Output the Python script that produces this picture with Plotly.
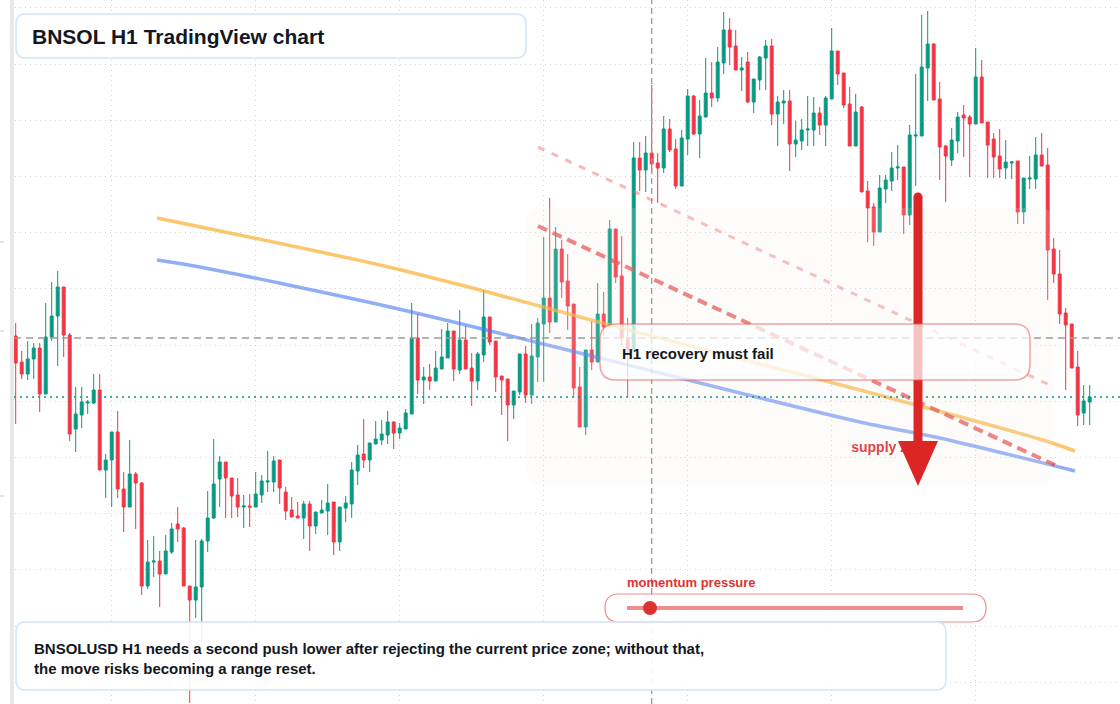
import pandas as pd
import plotly.graph_objects as go

# ---------------- data ----------------
START = "2025-03-09 08:00"

opens = [266.4, 263.8, 262.6, 264.1, 265.2, 260.6, 266.3, 268.4, 271.3, 266.5,
         257.1, 258.5, 259.7, 259.7, 261.0, 253.0, 254.0, 256.8, 251.1, 249.3,
         252.6, 251.7, 241.4, 243.8, 243.9, 242.6, 244.8, 247.6, 247.2, 241.4,
         240.0, 241.3, 245.9, 248.2, 252.1, 253.8, 252.2, 250.5, 249.3, 249.4,
         249.3, 250.5, 251.8, 251.8, 254.0, 250.8, 249.0, 248.4, 248.2, 249.6,
         247.4, 248.7, 248.9, 249.8, 245.8, 249.2, 249.6, 252.9, 254.6, 254.0,
         255.6, 256.0, 256.5, 257.8, 256.7, 257.1, 258.6, 266.2, 262.0, 262.3,
         261.9, 263.1, 264.2, 266.9, 263.0, 266.0, 263.2, 261.9, 264.5, 268.3,
         265.9, 262.4, 262.1, 259.5, 260.8, 264.6, 260.5, 264.3, 267.6, 270.2,
         267.8, 275.1, 271.9, 269.6, 261.3, 257.3, 265.0, 263.8, 268.6, 267.3,
         277.1, 272.4, 266.1, 265.0, 284.2, 283.0, 284.7, 283.7, 283.2, 287.1,
         285.1, 281.4, 286.1, 290.4, 286.6, 288.3, 290.7, 290.2, 293.7, 297.0,
         295.4, 293.0, 293.8, 289.8, 292.0, 294.2, 295.4, 288.6, 289.7, 289.9,
         285.6, 285.9, 287.0, 287.0, 288.7, 287.5, 290.1, 294.9, 292.7, 289.6,
         285.4, 289.3, 280.9, 279.3, 276.8, 281.1, 281.9, 283.2, 283.3, 278.5,
         286.4, 286.4, 293.2, 295.6, 290.1, 285.4, 284.0, 285.9, 288.5, 288.3,
         287.6, 292.3, 287.8, 286.1, 284.4, 283.2, 283.7, 283.9, 278.8, 282.1,
         282.1, 284.5, 283.5, 275.1, 272.6, 268.7, 267.6, 263.3, 258.7, 259.8]

highs = [267.7, 264.9, 265.9, 265.7, 265.7, 269.7, 271.8, 272.9, 271.3, 266.7,
         261.3, 261.3, 260.0, 262.6, 262.6, 254.6, 256.8, 258.9, 252.8, 256.0,
         252.8, 251.8, 246.0, 246.4, 244.9, 246.5, 247.7, 249.3, 247.3, 241.4,
         246.0, 246.1, 250.9, 256.1, 254.4, 253.8, 252.2, 252.2, 250.5, 250.6,
         252.8, 252.5, 254.9, 254.4, 254.0, 251.3, 250.3, 249.8, 249.9, 249.9,
         248.8, 250.0, 251.6, 249.8, 249.3, 250.4, 253.8, 255.5, 258.1, 255.7,
         257.9, 258.0, 258.9, 257.9, 257.7, 259.1, 269.7, 268.6, 263.3, 263.6,
         264.9, 267.1, 267.7, 266.9, 269.0, 267.4, 264.7, 264.8, 271.0, 268.3,
         265.9, 262.4, 262.1, 260.9, 264.6, 265.4, 267.6, 268.2, 276.3, 280.2,
         277.3, 276.0, 274.6, 269.6, 263.3, 265.0, 267.9, 271.7, 270.8, 278.0,
         277.1, 276.4, 268.2, 285.8, 285.8, 286.4, 291.5, 284.7, 288.4, 288.1,
         286.1, 287.0, 291.1, 290.5, 290.0, 294.2, 293.8, 295.3, 298.8, 298.2,
         297.0, 294.3, 294.8, 292.1, 294.4, 296.0, 296.1, 290.4, 291.0, 291.0,
         287.9, 288.1, 290.4, 290.3, 289.3, 290.4, 297.2, 294.9, 292.7, 291.3,
         290.6, 289.4, 281.9, 279.7, 282.5, 282.5, 284.8, 285.5, 283.3, 287.5,
         292.6, 298.5, 298.9, 295.7, 291.8, 285.5, 287.2, 288.8, 289.5, 288.5,
         295.2, 294.0, 287.8, 286.7, 287.1, 286.0, 283.9, 283.9, 282.2, 284.4,
         286.3, 286.7, 285.2, 276.2, 275.0, 269.2, 267.6, 264.9, 261.5, 261.5]

lows = [257.6, 262.1, 262.0, 262.1, 258.8, 260.6, 265.9, 263.4, 264.3, 255.9,
        254.8, 257.2, 258.6, 259.6, 253.0, 250.2, 249.3, 250.2, 246.8, 249.3,
        247.1, 240.5, 241.1, 242.3, 239.3, 242.6, 244.6, 245.8, 241.4, 229.7,
        238.2, 235.8, 244.8, 248.1, 249.3, 248.2, 248.2, 248.3, 247.2, 247.3,
        249.3, 249.7, 250.8, 250.8, 249.6, 248.0, 248.3, 248.2, 246.1, 244.9,
        246.6, 248.7, 246.5, 244.5, 244.9, 247.8, 248.2, 251.5, 253.2, 252.8,
        255.6, 255.5, 255.6, 255.1, 256.1, 257.1, 258.6, 260.6, 259.6, 261.0,
        261.9, 263.1, 264.2, 261.9, 262.6, 263.1, 259.4, 261.0, 263.8, 265.5,
        260.8, 258.5, 255.9, 258.1, 260.5, 259.7, 259.6, 261.8, 261.8, 266.7,
        267.8, 270.2, 267.0, 260.3, 257.3, 256.5, 263.0, 263.8, 266.5, 267.3,
        271.7, 265.5, 260.3, 265.0, 280.9, 280.8, 282.7, 279.7, 282.7, 284.8,
        281.1, 281.4, 284.5, 286.5, 284.2, 288.3, 289.3, 289.8, 292.6, 293.5,
        293.0, 290.9, 289.7, 288.7, 291.0, 291.0, 287.5, 285.4, 287.6, 282.9,
        284.3, 285.0, 285.4, 285.4, 286.5, 285.4, 290.1, 291.5, 289.2, 285.4,
        285.4, 280.8, 275.8, 275.4, 276.8, 279.7, 280.9, 282.0, 276.6, 277.5,
        281.4, 286.4, 289.9, 290.0, 282.0, 279.8, 283.4, 284.7, 284.3, 282.3,
        287.6, 287.7, 282.2, 282.2, 282.2, 282.1, 282.1, 277.6, 277.6, 281.1,
        281.1, 283.4, 270.0, 271.7, 267.6, 261.0, 263.2, 257.4, 257.5, 257.5]

closes = [263.7, 262.6, 264.1, 265.2, 260.6, 266.3, 268.4, 271.3, 266.5, 256.6,
          258.6, 259.8, 259.8, 261.0, 253.0, 254.0, 256.8, 251.1, 249.3, 252.6,
          251.7, 241.4, 243.8, 243.9, 242.6, 244.9, 247.1, 247.1, 241.4, 240.0,
          241.3, 245.9, 248.2, 251.6, 253.8, 252.2, 250.4, 249.3, 249.4, 249.3,
          250.6, 251.9, 251.9, 253.9, 251.2, 248.9, 248.3, 248.2, 249.6, 247.4,
          248.8, 249.0, 249.7, 245.8, 249.3, 249.7, 253.0, 254.5, 254.0, 255.7,
          256.1, 256.6, 257.8, 256.7, 257.2, 258.7, 266.2, 262.0, 262.3, 261.9,
          263.2, 264.3, 266.9, 263.1, 266.0, 263.1, 261.9, 264.6, 268.3, 265.8,
          262.3, 262.0, 259.5, 260.9, 264.6, 260.5, 264.4, 267.7, 270.2, 267.8,
          275.1, 271.8, 269.4, 261.2, 257.3, 265.0, 263.8, 268.6, 267.3, 277.1,
          272.3, 266.2, 265.0, 284.2, 283.0, 284.7, 283.6, 283.2, 287.1, 285.0,
          281.4, 286.2, 290.4, 286.6, 288.4, 290.7, 290.2, 293.8, 297.0, 295.3,
          293.0, 293.2, 289.8, 292.1, 294.3, 295.4, 288.6, 289.8, 289.9, 285.6,
          286.0, 287.0, 287.1, 288.7, 287.5, 290.2, 294.9, 292.6, 289.5, 285.4,
          288.8, 280.8, 279.2, 276.8, 281.2, 282.0, 283.2, 283.3, 278.5, 286.5,
          286.5, 293.3, 295.6, 290.0, 285.3, 284.4, 286.0, 288.3, 288.2, 287.6,
          292.3, 287.7, 285.5, 284.3, 283.1, 283.8, 283.8, 278.8, 282.2, 282.2,
          284.5, 283.4, 275.0, 272.6, 268.6, 267.5, 263.2, 258.5, 259.9, 260.3]

# overlay curves (bar index, price)
orange_idx = [23.55, 60.7, 77.4, 99.0, 140.7, 171.2, 176.55]
orange_price = [278.2, 273.5, 271.0, 267.5, 261.0, 256.0, 254.9]
blue_idx = [23.55, 30.7, 62.4, 94.0, 117.4, 140.7, 154.0, 176.55]
blue_price = [274.0, 273.3, 269.3, 264.7, 261.2, 257.8, 256.2, 252.9]
# descending dashed trendlines (bar index, price)
trend_main_idx = [87.05, 173.2]
trend_main_price = [277.4, 253.5]
trend_upper_idx = [87.05, 172.7]
trend_upper_price = [285.3, 261.4]

crosshair_bar = 106
crosshair_price = 266.2
supply_label_idx = 139.25
supply_label_price = 255.2

TITLE = "BNSOL H1 TradingView chart"
NOTE = ("BNSOLUSD H1 needs a second push lower after rejecting the current price zone; without that,"
        "<br>the move risks becoming a range reset.")
BOX_TEXT = "H1 recovery must fail"
MOMENTUM = "momentum pressure"
SUPPLY = "supply zone"

# ---------------- helpers ----------------
W, H = 1120, 704
FONT = "Liberation Sans, Arial, Helvetica, sans-serif"
GREEN = "#089981"
RED = "#f23645"

times = pd.date_range(START, periods=len(closes), freq="h")
t_base = times[0]


def idx_to_time(ix):
    return [t_base + pd.to_timedelta(v, unit="h") for v in ix]


def px(x):
    return x / W


def py(y):
    return 1 - y / H


def rrect(x0, y0, x1, y1, r):
    pts = [
        ("M", [(x0 + r, y0)]), ("L", [(x1 - r, y0)]), ("Q", [(x1, y0), (x1, y0 + r)]),
        ("L", [(x1, y1 - r)]), ("Q", [(x1, y1), (x1 - r, y1)]), ("L", [(x0 + r, y1)]),
        ("Q", [(x0, y1), (x0, y1 - r)]), ("L", [(x0, y0 + r)]), ("Q", [(x0, y0), (x0 + r, y0)]),
    ]
    s = ""
    for cmd, ps in pts:
        s += cmd + " " + " ".join(f"{px(a):.5f},{py(b):.5f}" for a, b in ps) + " "
    return s + "Z"


def poly(points):
    s = "M " + " L ".join(f"{px(a):.5f},{py(b):.5f}" for a, b in points)
    return s + " Z"


fig = go.Figure()

fig.add_trace(go.Candlestick(
    x=times, open=opens, high=highs, low=lows, close=closes,
    increasing=dict(line=dict(color=GREEN, width=1), fillcolor=GREEN),
    decreasing=dict(line=dict(color=RED, width=1), fillcolor=RED),
    hoverinfo="skip", showlegend=False,
))

fig.add_trace(go.Scatter(
    x=idx_to_time(orange_idx), y=orange_price, mode="lines",
    line=dict(color="rgba(248,175,50,0.7)", width=3.5, shape="spline", smoothing=0.8),
    hoverinfo="skip"))
fig.add_trace(go.Scatter(
    x=idx_to_time(blue_idx), y=blue_price, mode="lines",
    line=dict(color="rgba(70,120,240,0.6)", width=3.5, shape="spline", smoothing=0.8),
    hoverinfo="skip"))
fig.add_trace(go.Scatter(
    x=idx_to_time(trend_upper_idx), y=trend_upper_price, mode="lines",
    line=dict(color="rgba(235,100,100,0.45)", width=3, dash="7px,8px"),
    hoverinfo="skip"))
fig.add_trace(go.Scatter(
    x=idx_to_time(trend_main_idx), y=trend_main_price, mode="lines",
    line=dict(color="rgba(228,70,70,0.75)", width=4, dash="10px,6px"),
    hoverinfo="skip"))
fig.add_trace(go.Scatter(
    x=idx_to_time([supply_label_idx]), y=[supply_label_price], mode="text",
    text=[SUPPLY], textposition="middle right",
    textfont=dict(family=FONT, size=14, color="#dc2626", weight="bold"),
    hoverinfo="skip"))

shapes = []
# left frame strip
shapes.append(dict(type="rect", xref="paper", yref="paper", x0=px(0), x1=px(10), y0=0, y1=1,
                   fillcolor="white", line=dict(width=0), layer="above"))
shapes.append(dict(type="rect", xref="paper", yref="paper", x0=px(10), x1=px(14), y0=0, y1=1,
                   fillcolor="#e8e8e8", line=dict(width=0), layer="above"))
for ty in (242, 331, 496):
    shapes.append(dict(type="line", xref="paper", yref="paper", x0=px(0), x1=px(4), y0=py(ty), y1=py(ty),
                       line=dict(color="#c9c9c9", width=1), layer="above"))
# zone overlay
shapes.append(dict(type="path", xref="paper", yref="paper", path=rrect(527, 208, 1052, 485, 12),
                   fillcolor="rgba(250,235,225,0.15)", line=dict(width=0), layer="above"))
# crosshair + last price line
cross_t = times[crosshair_bar]
shapes.append(dict(type="line", xref="x", yref="paper", x0=cross_t, x1=cross_t, y0=0, y1=1,
                   line=dict(color="#9a9a9a", width=1.3, dash="6px,4px"), layer="above"))
shapes.append(dict(type="line", xref="paper", yref="y", x0=px(14), x1=1, y0=crosshair_price, y1=crosshair_price,
                   line=dict(color="#9a9a9a", width=1.5, dash="7px,5px"), layer="above"))
shapes.append(dict(type="line", xref="paper", yref="y", x0=px(14), x1=1, y0=closes[-1], y1=closes[-1],
                   line=dict(color=GREEN, width=1.5, dash="2px,4px"), layer="above"))
# arrow
AR = "#dc2626"
shapes.append(dict(type="path", xref="paper", yref="paper",
                   path=poly([(913.5, 197), (922.5, 197), (922.5, 445), (913.5, 445)]),
                   fillcolor=AR, line=dict(width=0), layer="above"))
shapes.append(dict(type="circle", xref="paper", yref="paper", x0=px(913.5), x1=px(922.5), y0=py(201.5), y1=py(192.5),
                   fillcolor=AR, line=dict(width=0), layer="above"))
shapes.append(dict(type="path", xref="paper", yref="paper",
                   path=poly([(898, 441), (938, 441), (918, 486)]),
                   fillcolor=AR, line=dict(width=0), layer="above"))
# H1 box
shapes.append(dict(type="path", xref="paper", yref="paper", path=rrect(600, 324, 1030, 380, 16),
                   fillcolor="rgba(255,255,255,0.72)", line=dict(color="rgba(230,90,90,0.55)", width=1.5),
                   layer="above"))
# title box
shapes.append(dict(type="path", xref="paper", yref="paper", path=rrect(16, 14, 526, 58, 10),
                   fillcolor="rgba(255,255,255,0.94)", line=dict(color="#d5e3f8", width=1.5), layer="above"))
# momentum pill
shapes.append(dict(type="path", xref="paper", yref="paper", path=rrect(605, 594, 986, 622, 14),
                   fillcolor="rgba(255,255,255,0.92)", line=dict(color="rgba(230,80,80,0.65)", width=1.2),
                   layer="above"))
shapes.append(dict(type="line", xref="paper", yref="paper", x0=px(627), x1=px(963), y0=py(608), y1=py(608),
                   line=dict(color="rgba(230,80,80,0.65)", width=4), layer="above"))
shapes.append(dict(type="circle", xref="paper", yref="paper", x0=px(643), x1=px(657), y0=py(615), y1=py(601),
                   fillcolor="#e03131", line=dict(width=0), layer="above"))
# bottom note box
shapes.append(dict(type="path", xref="paper", yref="paper", path=rrect(16, 622, 946, 690, 10),
                   fillcolor="rgba(255,255,255,0.9)", line=dict(color="#d5e3f8", width=1.5), layer="above"))

annotations = [
    dict(x=px(30), y=py(36), xref="paper", yref="paper", text=TITLE, showarrow=False,
         xanchor="left", yanchor="middle", font=dict(family=FONT, size=21, color="#131722", weight="bold")),
    dict(x=px(620), y=py(353), xref="paper", yref="paper", text=BOX_TEXT, showarrow=False,
         xanchor="left", yanchor="middle", font=dict(family=FONT, size=15, color="#131722", weight="bold")),
    dict(x=px(625), y=py(582), xref="paper", yref="paper", text=MOMENTUM, showarrow=False,
         xanchor="left", yanchor="middle", font=dict(family=FONT, size=13, color="#e03131", weight="bold")),
    dict(x=px(32), y=py(658), xref="paper", yref="paper", text=NOTE, showarrow=False, align="left",
         xanchor="left", yanchor="middle", font=dict(family=FONT, size=15, color="#131722", weight="bold")),
]

t0 = t_base - pd.to_timedelta(2.617, unit="h")
t1 = t_base + pd.to_timedelta(184.05, unit="h")

fig.update_layout(
    width=W, height=H, margin=dict(l=0, r=0, t=0, b=0),
    paper_bgcolor="white", plot_bgcolor="white", showlegend=False,
    shapes=shapes, annotations=annotations,
    xaxis=dict(range=[t0, t1], type="date", showticklabels=False, ticks="",
               showgrid=True, gridcolor="#d2d2d2", griddash="1px,4px", gridwidth=1,
               tick0="2025-03-10 00:00", dtick=86400000, zeroline=False, showline=False,
               rangeslider=dict(visible=False)),
    yaxis=dict(range=[229.6, 300.0], showticklabels=False, ticks="",
               showgrid=True, gridcolor="#d2d2d2", griddash="1px,4px", gridwidth=1,
               tick0=259.87, dtick=5.62, zeroline=False, showline=False),
)

fig.write_html("out.html", config={"displayModeBar": False})
